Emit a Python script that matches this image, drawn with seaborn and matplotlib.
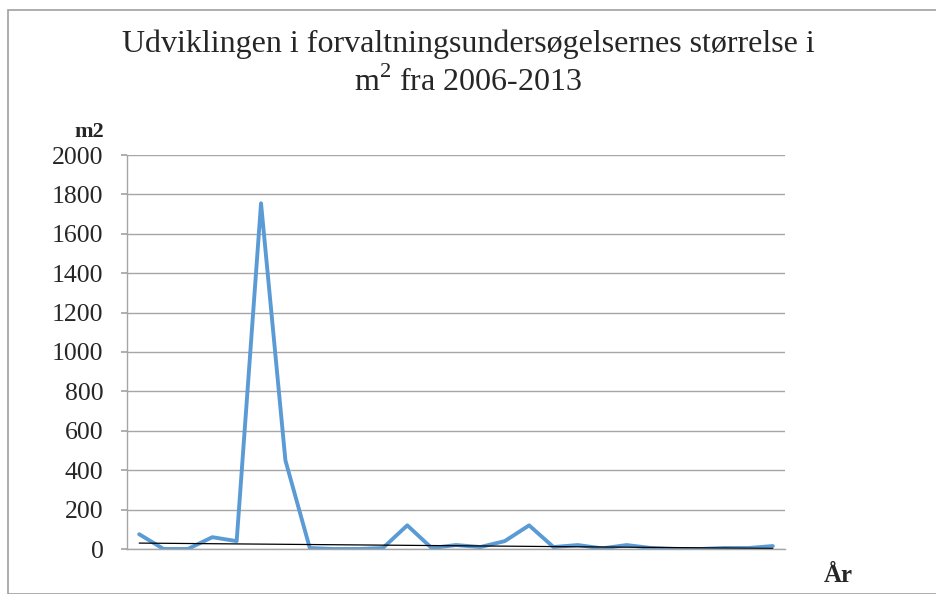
import numpy as np
import pandas as pd
import matplotlib
matplotlib.use("Agg")
import matplotlib.pyplot as plt
import seaborn as sns
from matplotlib.patches import Rectangle

title = "Udviklingen i forvaltningsundersøgelsernes størrelse i\nm$^{2}$ fra 2006-2013"
y_label = "m2"
x_label = "År"
values = [75, 0, 0, 60, 40, 1755, 450, 5, 0, 0, 5, 120, 5, 20, 10, 40, 120,
          10, 20, 3, 20, 5, 0, 0, 5, 5, 15]
trend_ends = [30, 3]
y_ticks = [0, 200, 400, 600, 800, 1000, 1200, 1400, 1600, 1800, 2000]

sns.set_theme(style="white")
plt.rcParams['font.family'] = ['Liberation Serif', 'DejaVu Serif']
plt.rcParams['mathtext.fontset'] = 'custom'
plt.rcParams['mathtext.rm'] = 'Liberation Serif'

fig = plt.figure(figsize=(9.37, 5.94), dpi=100)
ax = fig.add_axes([127/937, 1-549/594, (785-127)/937, (549-155)/594])

idx = np.arange(1, len(values) + 1)
df = pd.DataFrame({"idx": idx, "val": values})
sns.lineplot(data=df, x="idx", y="val", ax=ax, color="#5B9BD5", linewidth=2.8)

trend = np.linspace(trend_ends[0], trend_ends[1], len(values))
sns.lineplot(x=idx, y=trend, ax=ax, color="black", linewidth=0.9)

ax.set_xlim(0.5, len(values) + 0.5)
ax.set_ylim(0, 2000)
ax.set_yticks(y_ticks)
ax.set_yticklabels([str(t) for t in y_ticks], fontsize=18.5)
ax.set_xticks([])
ax.set_xlabel("")
ax.set_ylabel("")
ax.grid(axis="y", color="#a6a6a6", linewidth=1)
ax.set_axisbelow(True)
for s in ["top", "right"]:
    ax.spines[s].set_visible(False)
for s in ["left", "bottom"]:
    ax.spines[s].set_color("#a6a6a6")
    ax.spines[s].set_linewidth(1)
ax.tick_params(axis="y", which="major", left=True, length=4, color="#a6a6a6", pad=13)

fig.text(0.5, 1-64/594, title, ha="center", va="center", fontsize=23,
         linespacing=1.3)
fig.text(104/937, 1-132/594, y_label, ha="right", va="center", fontsize=16,
         fontweight="bold")
fig.text(838/937, 1-575/594, x_label, ha="center", va="center", fontsize=18,
         fontweight="bold")

fig.patches.append(Rectangle((8/937, 0), 1.0, 1-10/594, transform=fig.transFigure,
                             fill=False, edgecolor="#a0a0a0", linewidth=1.2))

fig.savefig("out.png", dpi=100)
